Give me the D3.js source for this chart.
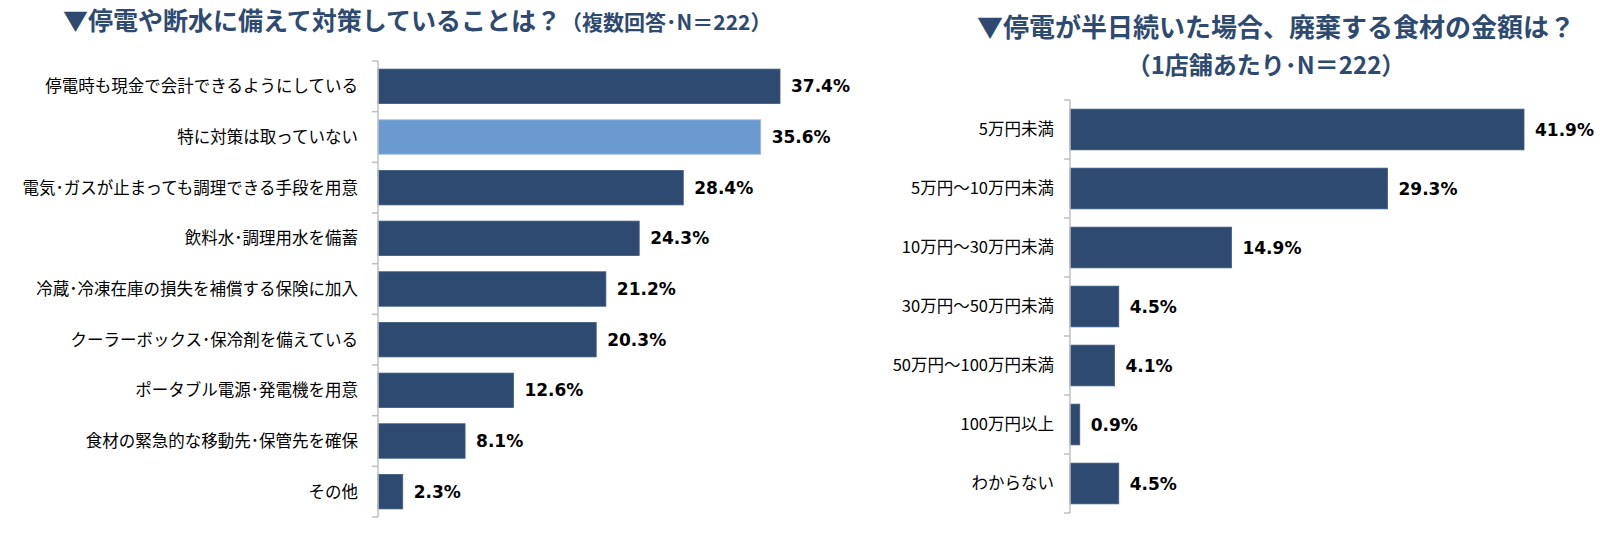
<!DOCTYPE html>
<html><head><meta charset="utf-8">
<script src="https://cdn.jsdelivr.net/npm/d3@7/dist/d3.min.js"></script>
<style>
body{margin:0;background:#fff;}
svg{display:block;}
</style></head>
<body>
<svg id="c" width="1604" height="550"></svg>
<script>
const leftCategories = ["停電時も現金で会計できるようにしている","特に対策は取っていない","電気･ガスが止まっても調理できる手段を用意","飲料水･調理用水を備蓄","冷蔵･冷凍在庫の損失を補償する保険に加入","クーラーボックス･保冷剤を備えている","ポータブル電源･発電機を用意","食材の緊急的な移動先･保管先を確保","その他"];
const leftValues = [37.4,35.6,28.4,24.3,21.2,20.3,12.6,8.1,2.3];
const leftHighlight = [false,true,false,false,false,false,false,false,false];
const rightCategories = ["5万円未満","5万円～10万円未満","10万円～30万円未満","30万円～50万円未満","50万円～100万円未満","100万円以上","わからない"];
const rightValues = [41.9,29.3,14.9,4.5,4.1,0.9,4.5];
const leftTitle = "▼停電や断水に備えて対策していることは？";
const leftSub = "（複数回答･N＝222）";
const rightTitle = "▼停電が半日続いた場合、廃棄する食材の金額は？";
const rightSub = "（1店舗あたり･N＝222）";

const DARK = "#2E4A70", LIGHT = "#6A9AD0", AXIS = "#BFBFBF", TITLE = "#2E4A70";
const JP = "'Noto Sans CJK JP','Noto Sans',sans-serif";
const NUM = "'DejaVu Sans',Verdana,sans-serif";
const svg = d3.select("#c");

function drawChart(cfg){
  const g = svg.append("g");
  const y = d3.scaleBand().domain(cfg.cats).range([cfg.y0, cfg.y1]).paddingInner(cfg.pad).paddingOuter(cfg.pad/2);
  const x = d3.scaleLinear().domain([0, cfg.dmax]).range([cfg.x0, cfg.x1]);
  g.selectAll("rect.bar").data(cfg.cats).join("rect")
    .attr("x", x(0)).attr("y", d => y(d))
    .attr("width", (d,i) => x(cfg.vals[i]) - x(0))
    .attr("height", y.bandwidth())
    .attr("fill", (d,i) => cfg.hl && cfg.hl[i] ? LIGHT : DARK)
    .attr("stroke", (d,i) => cfg.hl && cfg.hl[i] ? "#9DBDE3" : "#3E5A82")
    .attr("stroke-width", 0.8);
  g.selectAll("text.val").data(cfg.cats).join("text")
    .attr("x", (d,i) => x(cfg.vals[i]) + 11)
    .attr("y", d => y(d) + y.bandwidth()/2)
    .attr("dy", "0.36em")
    .attr("font-family", NUM).attr("font-weight", "bold").attr("font-size", 17)
    .attr("fill", "#000")
    .text((d,i) => cfg.vals[i].toFixed(1) + "%");
  const step = y.step();
  const bounds = d3.range(cfg.cats.length + 1).map(i => cfg.y0 + i*step);
  g.append("line").attr("x1", x(0)).attr("x2", x(0)).attr("y1", cfg.y0).attr("y2", cfg.y1)
    .attr("stroke", AXIS).attr("stroke-width", 1.5);
  g.selectAll("line.tk").data(bounds).join("line")
    .attr("x1", x(0) - 6).attr("x2", x(0)).attr("y1", d => d).attr("y2", d => d)
    .attr("stroke", AXIS).attr("stroke-width", 1.5);
  g.selectAll("text.cat").data(cfg.cats).join("text")
    .attr("x", x(0) - cfg.labelGap)
    .attr("y", d => y(d) + y.bandwidth()/2)
    .attr("dy", "0.36em")
    .attr("text-anchor", "end")
    .attr("font-family", JP).attr("font-size", 16.5)
    .attr("fill", "#000")
    .text(d => d);
}

drawChart({cats:leftCategories, vals:leftValues, hl:leftHighlight, y0:61, y1:517, pad:0.32, x0:378, x1:780, dmax:37.4, labelGap:20});
drawChart({cats:rightCategories, vals:rightValues, y0:100, y1:513, pad:0.31, x0:1070, x1:1524, dmax:41.9, labelGap:16});

const t1 = svg.append("text").attr("x", 63).attr("y", 24).attr("dy","0.36em")
  .attr("font-family", JP).attr("font-weight","bold").attr("fill", TITLE);
t1.append("tspan").attr("font-size", 25).text(leftTitle);
t1.append("tspan").attr("font-size", 21).attr("dx", 0).text(leftSub);

svg.append("text").attr("x", 977).attr("y", 28).attr("dy","0.36em")
  .attr("font-family", JP).attr("font-weight","bold").attr("font-size", 26).attr("fill", TITLE)
  .text(rightTitle);
svg.append("text").attr("x", 1266).attr("y", 65).attr("dy","0.36em").attr("text-anchor","middle")
  .attr("font-family", JP).attr("font-weight","bold").attr("font-size", 24).attr("fill", TITLE)
  .text(rightSub);
</script>
</body></html>
